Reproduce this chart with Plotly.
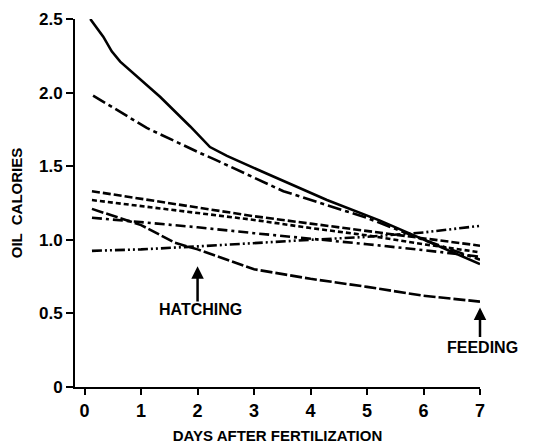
import plotly.graph_objects as go

# days after fertilization / oil calories
solid_days = [0.1, 0.33, 0.48, 0.63, 1.34, 1.87, 2.22, 2.52, 3.22, 4.29, 5.23, 6.0, 7.0]
solid_cal = [2.50, 2.38, 2.28, 2.21, 1.97, 1.77, 1.63, 1.57, 1.45, 1.27, 1.13, 1.0, 0.835]

ldd_days = [0.15, 1.1, 2.04, 2.28, 3.52, 4.99, 6.0, 7.0]
ldd_cal = [1.98, 1.76, 1.59, 1.55, 1.33, 1.15, 1.0, 0.865]

dash_a_days = [0.13, 1, 2, 3, 4, 5, 6, 7]
dash_a_cal = [1.33, 1.28, 1.22, 1.16, 1.11, 1.06, 1.01, 0.96]

dash_b_days = [0.13, 1, 2, 3, 4, 5, 6, 7]
dash_b_cal = [1.27, 1.23, 1.185, 1.135, 1.08, 1.03, 0.97, 0.915]

long_days = [0.13, 1.0, 1.6, 2, 3, 4, 5, 6, 7]
long_cal = [1.21, 1.10, 0.98, 0.935, 0.80, 0.735, 0.68, 0.62, 0.58]

dashdot_days = [0.13, 1, 2, 3, 4, 5, 6, 7]
dashdot_cal = [1.15, 1.12, 1.085, 1.045, 1.01, 0.97, 0.93, 0.885]

dd2_days = [0.13, 1, 2, 3, 4, 5, 6, 7]
dd2_cal = [0.925, 0.935, 0.955, 0.98, 1.0, 1.02, 1.05, 1.095]

x_ticks = [0, 1, 2, 3, 4, 5, 6, 7]
y_ticks = [0, 0.5, 1.0, 1.5, 2.0, 2.5]
y_tick_text = ['0', '0.5', '1.0', '1.5', '2.0', '2.5']

FONT = 'Liberation Sans'

series = [
    (solid_days, solid_cal, 'solid'),
    (ldd_days, ldd_cal, '14px,4px,4px,4px'),
    (dash_a_days, dash_a_cal, '8px,3px'),
    (dash_b_days, dash_b_cal, '5px,3px'),
    (long_days, long_cal, '12px,3px'),
    (dashdot_days, dashdot_cal, '10px,4px,3px,4px'),
    (dd2_days, dd2_cal, '10px,3px,2px,3px,2px,3px'),
]

fig = go.Figure()
for xs, ys, dash in series:
    fig.add_trace(go.Scatter(x=xs, y=ys, mode='lines', cliponaxis=False,
                             line=dict(color='black', width=2.6, dash=dash)))

# arrows for hatching and feeding
for x0, tip, tail in [(2, 0.82, 0.57), (7, 0.54, 0.33)]:
    fig.add_annotation(x=x0, y=tip, ax=x0, ay=tail, axref='x', ayref='y',
                       text='', showarrow=True, arrowhead=2, arrowsize=1,
                       arrowwidth=2.5, arrowcolor='black')
fig.add_annotation(x=2.06, y=0.525, text='<b>HATCHING</b>', showarrow=False,
                   xanchor='center', font=dict(family=FONT, size=16, color='black'))
fig.add_annotation(x=1.005, xref='paper', y=0.268, text='<b>FEEDING</b>',
                   showarrow=False, xanchor='center',
                   font=dict(family=FONT, size=16, color='black'))

# page body has an 8px margin, so the figure is shifted by that much
fig.update_layout(
    width=551, height=439,
    margin=dict(l=67, r=79, t=11, b=60),
    plot_bgcolor='white', paper_bgcolor='white',
    showlegend=False,
    xaxis=dict(range=[-0.17, 7.0], tickvals=x_ticks, showgrid=False, zeroline=False,
               showline=True, linecolor='black', linewidth=2,
               ticks='outside', ticklen=6, tickwidth=2, tickcolor='black',
               tickfont=dict(family=FONT, size=18, color='black', weight='bold'),
               title=dict(text='<b>DAYS AFTER FERTILIZATION</b>', standoff=11,
                          font=dict(family=FONT, size=15, color='black')),
               automargin=False),
    yaxis=dict(range=[0, 2.5], tickvals=y_ticks, ticktext=y_tick_text,
               showgrid=False, zeroline=False,
               showline=True, linecolor='black', linewidth=2,
               ticks='outside', ticklen=7, tickwidth=2, tickcolor='black',
               tickfont=dict(family=FONT, size=17, color='black', weight='bold'),
               title=dict(text='<b>OIL  CALORIES</b>', standoff=13,
                          font=dict(family=FONT, size=15, color='black')),
               automargin=False),
)

fig.write_html("out.html")
